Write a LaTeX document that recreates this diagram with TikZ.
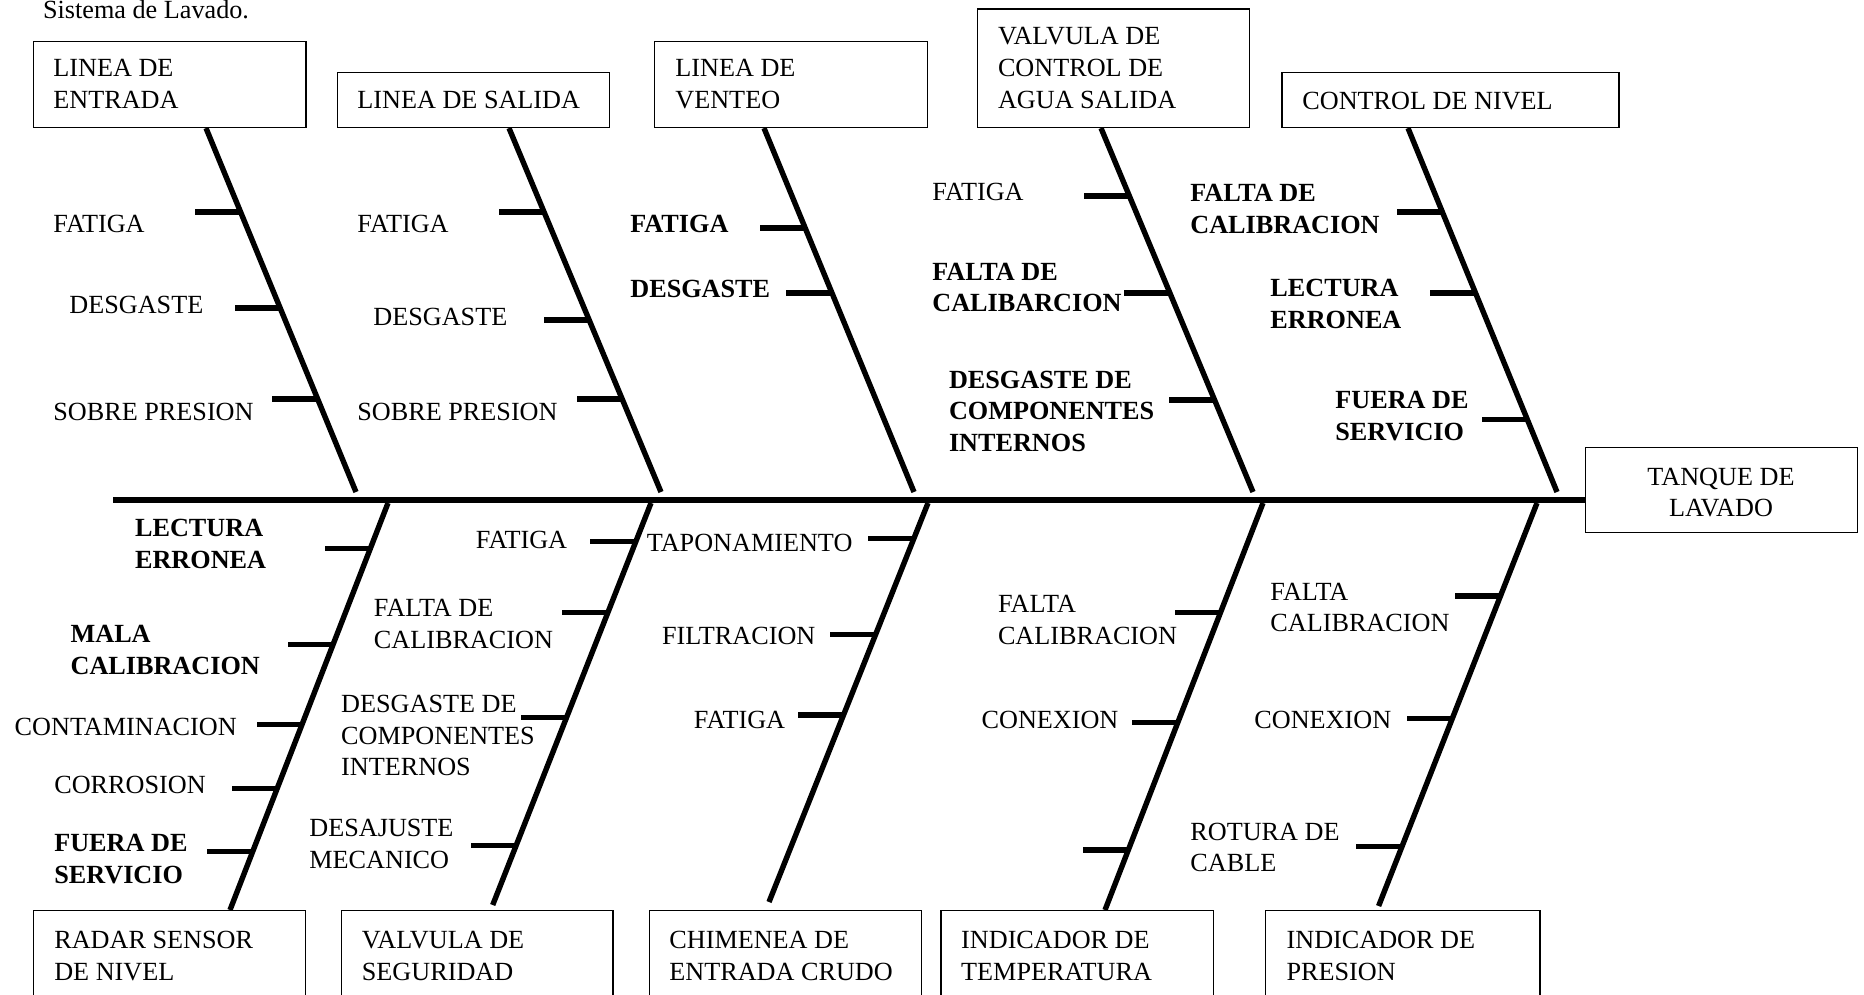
\documentclass[tikz,border=0pt]{standalone}
\usepackage{fontspec}
\setmainfont{Liberation Serif}
\usetikzlibrary{intersections}

% stacked label lines, baseline = first line
\newcommand\lines[1]{\begin{tabular}[t]{@{}l@{}}#1\end{tabular}}
\newcommand\clines[1]{\begin{tabular}[t]{@{}c@{}}#1\end{tabular}}

% a rib on bone path #1 at height #2, named #3
\newcommand\rib[3]{%
  \path[name path=ribcut] (0,#2) -- (1864,#2);
  \path[name intersections={of=#1 and ribcut}] (intersection-1) coordinate (#3);
  \draw[ribline] ([xshift=0.75pt]#3) -- ++(-47,0);}

\begin{document}
\begin{tikzpicture}[x=0.5pt, y=-0.5pt,
  txt/.style={font=\fontsize{13.1}{15.9}\selectfont, inner sep=0pt, anchor=base west},
  btxt/.style={txt, font=\fontsize{13.1}{15.9}\selectfont\bfseries},
  box/.style={draw, line width=0.7pt, inner sep=0pt, anchor=north west},
  bone/.style={line width=2.7pt},
  ribline/.style={line width=2.7pt},
  spine/.style={line width=2.6pt}]

\useasboundingbox (0,0) rectangle (1864,995);
\clip (0,0) rectangle (1864,995);

% heading
\node[txt] (title) at (42.7,19) {Sistema de Lavado.};

% ---------- cause boxes, top row ----------
\node[box, minimum width=136.4pt,  minimum height=43pt]    (b1) at (32.5,40.7) {};
\node[box, minimum width=136.25pt, minimum height=27.35pt] (b2) at (336.5,72) {};
\node[box, minimum width=136.25pt, minimum height=43pt]    (b3) at (654,40.7) {};
\node[box, minimum width=135.8pt,  minimum height=59.2pt]  (b4) at (977,8.3) {};
\node[box, minimum width=168.5pt,  minimum height=27.35pt] (b5) at (1281.4,72) {};

\node[txt] (b1t) at (53,76.7)   {\lines{LINEA DE\\ENTRADA}};
\node[txt] (b2t) at (357,109)   {LINEA DE SALIDA};
\node[txt] (b3t) at (675,77)    {\lines{LINEA DE\\VENTEO}};
\node[txt] (b4t) at (997.6,45)  {\lines{VALVULA DE\\CONTROL DE\\AGUA SALIDA}};
\node[txt] (b5t) at (1302,109.6) {CONTROL DE NIVEL};

% ---------- effect box ----------
\node[box, minimum width=135.85pt, minimum height=42.5pt] (tank) at (1585,446.7) {};
\node[txt, anchor=base] (tankt) at (1721,485) {\clines{TANQUE DE\\LAVADO}};

% ---------- cause boxes, bottom row ----------
\node[box, minimum width=136.15pt, minimum height=50pt] (r1) at (32.7,910) {};
\node[box, minimum width=135.85pt, minimum height=50pt] (r2) at (340.5,910) {};
\node[box, minimum width=136.1pt,  minimum height=50pt] (r3) at (648.6,910) {};
\node[box, minimum width=136.15pt, minimum height=50pt] (r4) at (940.4,910) {};
\node[box, minimum width=137.15pt, minimum height=50pt] (r5) at (1264.9,910) {};

\node[txt] (r1t) at (53.9,948.3)  {\lines{RADAR SENSOR\\DE NIVEL}};
\node[txt] (r2t) at (361.5,948.3) {\lines{VALVULA DE\\SEGURIDAD}};
\node[txt] (r3t) at (669,948.3)   {\lines{CHIMENEA DE\\ENTRADA CRUDO}};
\node[txt] (r4t) at (960.8,948.3) {\lines{INDICADOR DE\\TEMPERATURA}};
\node[txt] (r5t) at (1286.2,948.3) {\lines{INDICADOR DE\\PRESION}};

% ---------- spine ----------
\coordinate (tail) at (113,500);
\draw[spine] (tail) -- (tank.west |- tail);

% ---------- upper bones ----------
\coordinate (s1) at (356,492);
\coordinate (s2) at (661,492);
\coordinate (s3) at (914,492);
\coordinate (s4) at (1253,492);
\coordinate (s5) at (1557,492);
\draw[bone, name path=u1] (b1.south -| 206,0)  -- (s1);
\draw[bone, name path=u2] (b2.south -| 509,0)  -- (s2);
\draw[bone, name path=u3] (b3.south -| 764,0)  -- (s3);
\draw[bone, name path=u4] (b4.south -| 1101,0) -- (s4);
\draw[bone, name path=u5] (b5.south -| 1408,0) -- (s5);

% ---------- lower bones ----------
\coordinate (l1) at (388,503);
\coordinate (l2) at (651,503);
\coordinate (l3) at (928,503);
\coordinate (l4) at (1263,503);
\coordinate (l5) at (1537,503);
\coordinate (e2) at (492.7,905);
\coordinate (e3) at (769,902);
\coordinate (e5) at (1378.6,906);
\draw[bone, name path=d1] (l1) -- (r1.north -| 230,0);
\draw[bone, name path=d2] (l2) -- (e2);
\draw[bone, name path=d3] (l3) -- (e3);
\draw[bone, name path=d4] (l4) -- (r4.north -| 1105,0);
\draw[bone, name path=d5] (l5) -- (e5);

% ---------- ribs ----------
\rib{u1}{212}{k11} \rib{u1}{308}{k12} \rib{u1}{399}{k13}
\rib{u2}{212}{k21} \rib{u2}{320}{k22} \rib{u2}{399}{k23}
\rib{u3}{228}{k31} \rib{u3}{293}{k32}
\rib{u4}{196}{k41} \rib{u4}{293}{k42} \rib{u4}{400}{k43}
\rib{u5}{212}{k51} \rib{u5}{293}{k52} \rib{u5}{419.5}{k53}

\rib{d1}{548.3}{m11} \rib{d1}{644.3}{m12} \rib{d1}{724.3}{m13}
\rib{d1}{788.3}{m14} \rib{d1}{851.7}{m15}
\rib{d2}{541.7}{m21} \rib{d2}{612.3}{m22} \rib{d2}{717.7}{m23} \rib{d2}{845.7}{m24}
\rib{d3}{538.3}{m31} \rib{d3}{634.3}{m32} \rib{d3}{715}{m33}
\rib{d4}{612.3}{m41} \rib{d4}{722.3}{m42} \rib{d4}{850}{m43}
\rib{d5}{596}{m51} \rib{d5}{718.3}{m52} \rib{d5}{846.7}{m53}

% ---------- causes above the spine ----------
\node[txt]  (c11) at (53,232)  {FATIGA};
\node[txt]  (c12) at (69,313)  {DESGASTE};
\node[txt]  (c13) at (53,420)  {SOBRE PRESION};
\node[txt]  (c21) at (357,232) {FATIGA};
\node[txt]  (c22) at (373,325) {DESGASTE};
\node[txt]  (c23) at (357,420) {SOBRE PRESION};
\node[btxt] (c31) at (630,232) {FATIGA};
\node[btxt] (c32) at (630,297) {DESGASTE};
\node[txt]  (c41) at (932,200.7) {FATIGA};
\node[btxt] (c42) at (932,280)   {\lines{FALTA DE\\CALIBARCION}};
\node[btxt] (c43) at (948.6,388) {\lines{DESGASTE DE\\COMPONENTES\\INTERNOS}};
\node[btxt] (c51) at (1190,201.7) {\lines{FALTA DE\\CALIBRACION}};
\node[btxt] (c52) at (1270,296.7) {\lines{LECTURA\\ERRONEA}};
\node[btxt] (c53) at (1335,408.3) {\lines{FUERA DE\\SERVICIO}};

% ---------- causes below the spine ----------
\node[btxt] (e11) at (134.7,536.7) {\lines{LECTURA\\ERRONEA}};
\node[btxt] (e12) at (70.2,642.7)  {\lines{MALA\\CALIBRACION}};
\node[txt]  (e13) at (14.3,735)    {CONTAMINACION};
\node[txt]  (e14) at (53.9,793.3)  {CORROSION};
\node[btxt] (e15) at (53.9,851.7)  {\lines{FUERA DE\\SERVICIO}};
\node[txt]  (e21) at (475.5,548.3) {FATIGA};
\node[txt]  (e22) at (373.5,616.7) {\lines{FALTA DE\\CALIBRACION}};
\node[txt]  (e23) at (340.8,712.3) {\lines{DESGASTE DE\\COMPONENTES\\INTERNOS}};
\node[txt]  (e24) at (309,836.7)   {\lines{DESAJUSTE\\MECANICO}};
\node[txt]  (e31) at (646.5,551.7) {TAPONAMIENTO};
\node[txt]  (e32) at (661.6,644.3) {FILTRACION};
\node[txt]  (e33) at (693.5,728.3) {FATIGA};
\node[txt]  (e41) at (997.6,612.3) {\lines{FALTA\\CALIBRACION}};
\node[txt]  (e42) at (981.2,728.3) {CONEXION};
\node[txt]  (e51) at (1270,600)    {\lines{FALTA\\CALIBRACION}};
\node[txt]  (e52) at (1254,728.3)  {CONEXION};
\node[txt]  (e53) at (1190,840)    {\lines{ROTURA DE\\CABLE}};

\end{tikzpicture}
\end{document}
